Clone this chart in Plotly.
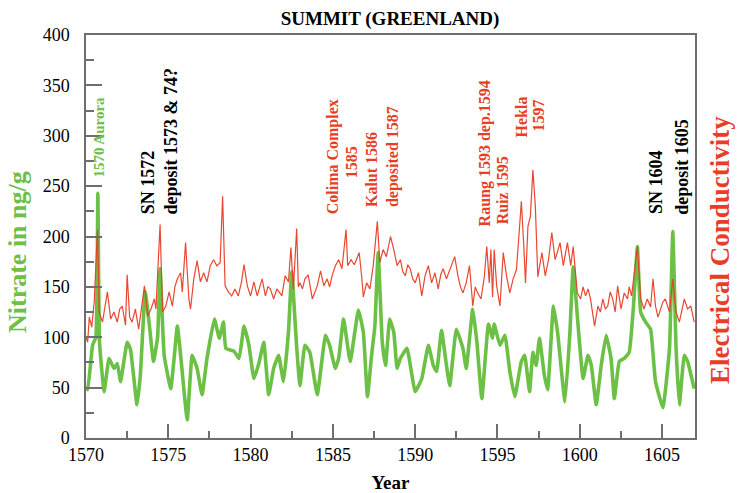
import plotly.graph_objects as go

# ---------------- data ----------------
nitrate_year = [1570.0, 1570.1, 1570.4, 1570.6, 1570.72, 1570.82, 1571.1, 1571.4, 1571.7, 1571.9,
                1572.1, 1572.5, 1572.7, 1573.1, 1573.3, 1573.6, 1573.85, 1574.1, 1574.35, 1574.5,
                1574.75, 1575.15, 1575.55, 1575.75, 1576.15, 1576.45, 1576.75, 1577.05, 1577.35, 1577.8,
                1578.1, 1578.35, 1578.5, 1579.0, 1579.3, 1579.6, 1579.9, 1580.2, 1580.5, 1580.8,
                1581.1, 1581.4, 1581.7, 1582.0, 1582.3, 1582.5, 1582.8, 1583.0, 1583.3, 1583.6,
                1584.05, 1584.55, 1584.8, 1585.15, 1585.35, 1585.65, 1586.05, 1586.55, 1586.85, 1587.1,
                1587.35, 1587.55, 1587.75, 1588.0, 1588.2, 1588.45, 1588.7, 1588.9, 1589.1, 1589.5,
                1590.0, 1590.4, 1590.8, 1591.1, 1591.3, 1591.6, 1591.9, 1592.1, 1592.5, 1592.9,
                1593.1, 1593.5, 1593.75, 1594.05, 1594.45, 1594.7, 1594.8, 1595.15, 1595.45, 1595.75,
                1596.05, 1596.45, 1596.65, 1596.95, 1597.15, 1597.35, 1597.55, 1597.85, 1598.05, 1598.4,
                1598.65, 1599.1, 1599.4, 1599.6, 1599.9, 1600.2, 1600.5, 1600.7, 1601.0, 1601.3,
                1601.6, 1601.9, 1602.1, 1602.4, 1602.7, 1603.0, 1603.25, 1603.5, 1603.7, 1604.0,
                1604.3, 1604.6, 1605.05, 1605.45, 1605.65, 1605.85, 1606.05, 1606.35, 1606.55, 1606.95]
nitrate = [50, 48, 92, 100, 243, 95, 46, 79, 69, 74,
           56, 95, 88, 33, 62, 145, 112, 76, 100, 168,
           82, 49, 111, 82, 18, 82, 69, 43, 79, 118,
           99, 115, 89, 86, 79, 111, 92, 59, 74, 95,
           43, 69, 82, 56, 105, 165, 90, 52, 92, 85,
           43, 102, 92, 69, 79, 118, 76, 127, 105, 41,
           82, 111, 184, 95, 72, 118, 105, 69, 79, 89,
           46, 59, 92, 72, 66, 107, 72, 52, 108, 89,
           69, 128, 95, 39, 113, 99, 113, 92, 102, 66,
           41, 76, 82, 46, 85, 72, 99, 62, 48, 131,
           105, 36, 105, 170, 111, 59, 82, 72, 33, 72,
           102, 79, 39, 76, 79, 85, 128, 190, 125, 115,
           108, 56, 30, 89, 205, 89, 33, 82, 76, 49]

conductivity_year = [1570.0, 1570.1, 1570.2, 1570.35, 1570.5, 1570.7, 1570.8, 1571.0, 1571.15, 1571.3,
                     1571.5, 1571.7, 1571.9, 1572.05, 1572.2, 1572.4, 1572.5, 1572.65, 1572.8, 1573.0,
                     1573.2, 1573.4, 1573.55, 1573.75, 1573.95, 1574.15, 1574.25, 1574.5, 1574.65, 1574.85,
                     1575.05, 1575.25, 1575.4, 1575.55, 1575.75, 1575.85, 1576.05, 1576.25, 1576.35, 1576.55,
                     1576.75, 1576.95, 1577.15, 1577.35, 1577.55, 1577.75, 1577.95, 1578.15, 1578.3, 1578.45,
                     1578.65, 1578.85, 1579.05, 1579.25, 1579.45, 1579.6, 1579.8, 1580.0, 1580.2, 1580.4,
                     1580.55, 1580.7, 1580.9, 1581.05, 1581.2, 1581.4, 1581.6, 1581.9, 1582.1, 1582.3,
                     1582.45, 1582.6, 1582.8, 1582.9, 1583.0, 1583.15, 1583.3, 1583.5, 1583.75, 1584.05,
                     1584.25, 1584.45, 1584.65, 1584.8, 1584.95, 1585.15, 1585.35, 1585.55, 1585.8, 1585.9,
                     1586.1, 1586.3, 1586.45, 1586.6, 1586.75, 1586.85, 1587.05, 1587.25, 1587.45, 1587.7,
                     1587.85, 1588.05, 1588.25, 1588.5, 1588.7, 1588.9, 1589.1, 1589.25, 1589.4, 1589.55,
                     1589.7, 1589.85, 1590.0, 1590.2, 1590.4, 1590.6, 1590.8, 1591.0, 1591.2, 1591.4,
                     1591.55, 1591.7, 1591.9, 1592.05, 1592.2, 1592.4, 1592.6, 1592.75, 1592.9, 1593.1,
                     1593.3, 1593.5, 1593.65, 1593.8, 1594.0, 1594.2, 1594.35, 1594.5, 1594.6, 1594.7,
                     1594.8, 1594.95, 1595.15, 1595.35, 1595.55, 1595.75, 1595.95, 1596.15, 1596.3, 1596.45,
                     1596.6, 1596.7, 1596.85, 1597.0, 1597.15, 1597.3, 1597.45, 1597.6, 1597.7, 1597.9,
                     1598.1, 1598.3, 1598.5, 1598.65, 1598.8, 1599.0, 1599.25, 1599.45, 1599.6, 1599.85,
                     1600.05, 1600.2, 1600.35, 1600.5, 1600.65, 1600.9, 1601.1, 1601.25, 1601.4, 1601.55,
                     1601.7, 1601.85, 1602.0, 1602.15, 1602.3, 1602.5, 1602.7, 1602.9, 1603.0, 1603.15,
                     1603.3, 1603.5, 1603.7, 1603.9, 1604.1, 1604.3, 1604.45, 1604.6, 1604.75, 1604.9,
                     1605.05, 1605.2, 1605.45, 1605.65, 1605.85, 1606.05, 1606.2, 1606.35, 1606.55, 1606.75,
                     1606.95]
conductivity = [100, 95, 120, 110, 135, 207, 125, 115, 130, 145,
                118, 125, 115, 128, 131, 112, 162, 120, 115, 128,
                108, 131, 151, 121, 128, 138, 128, 212, 125, 131,
                145, 131, 150, 158, 164, 145, 194, 138, 128, 158,
                176, 155, 164, 155, 171, 177, 171, 174, 240, 151,
                145, 141, 148, 141, 155, 172, 151, 141, 155, 141,
                150, 158, 141, 150, 148, 138, 148, 141, 161, 155,
                189, 148, 208, 150, 154, 148, 158, 162, 138, 151,
                166, 151, 158, 150, 161, 171, 177, 168, 207, 171,
                177, 172, 178, 184, 160, 140, 154, 148, 171, 215,
                174, 187, 180, 200, 187, 171, 177, 165, 161, 172,
                168, 158, 154, 164, 141, 161, 171, 154, 164, 148,
                162, 168, 158, 165, 171, 180, 161, 150, 144, 154,
                171, 131, 150, 144, 138, 160, 190, 154, 187, 140,
                187, 151, 131, 184, 161, 144, 158, 167, 200, 235,
                190, 154, 210, 220, 266, 230, 160, 175, 184, 161,
                177, 204, 177, 185, 194, 171, 194, 171, 190, 144,
                138, 150, 141, 148, 138, 111, 131, 125, 138, 128,
                131, 145, 138, 125, 151, 128, 144, 138, 150, 141,
                160, 190, 138, 128, 138, 130, 158, 131, 120, 128,
                135, 138, 125, 158, 125, 115, 125, 138, 128, 131,
                115]

x_range = [1570, 1607]
y_range = [0, 400]

# ---------------- figure ----------------
GREEN = "rgb(108,192,70)"
RED = "rgb(232,62,38)"
FONT = "Liberation Serif"

fig = go.Figure()
fig.add_trace(go.Scatter(x=nitrate_year, y=nitrate, mode="lines",
                         line=dict(color=GREEN, width=3.6, shape="spline", smoothing=0.35),
                         showlegend=False))
fig.add_trace(go.Scatter(x=conductivity_year, y=conductivity, mode="lines",
                         line=dict(color=RED, width=1.2), opacity=0.95,
                         yaxis="y2", showlegend=False))

annots = [
    ("1570 Aurora", 1570.79, 256, "bottom", GREEN, 15),
    ("SN 1572", 1573.76, 220, "bottom", "black", 18),
    ("deposit 1573 & 74?", 1575.15, 220, "bottom", "black", 18),
    ("Colima Complex", 1585.03, 279, "middle", RED, 16),
    ("1585", 1586.18, 274, "middle", RED, 16),
    ("Kalut 1586", 1587.39, 227, "bottom", RED, 16),
    ("deposited 1587", 1588.61, 227, "bottom", RED, 16),
    ("Raung 1593 dep.1594", 1594.24, 208, "bottom", RED, 16),
    ("Ruiz 1595", 1595.27, 210, "bottom", RED, 16),
    ("Hekla", 1596.48, 319, "middle", RED, 16),
    ("1597", 1597.52, 320, "middle", RED, 16),
    ("SN 1604", 1604.67, 220, "bottom", "black", 18),
    ("deposit 1605", 1606.24, 220, "bottom", "black", 18),
]
for txt, xv, yv, ya, col, sz in annots:
    fig.add_annotation(x=xv, y=yv, xref="x", yref="y", text="<b>" + txt + "</b>",
                       textangle=-90, showarrow=False, xanchor="center", yanchor=ya,
                       font=dict(family=FONT, size=sz, color=col))

# axis titles (placed as rotated texts)
fig.add_annotation(x=-69 / 609, y=(438 - 252) / 403, xref="paper", yref="paper",
                   text="<b>Nitrate in ng/g</b>", textangle=-90, showarrow=False,
                   xanchor="center", yanchor="middle",
                   font=dict(family=FONT, size=26, color=GREEN))
fig.add_annotation(x=(720 - 86) / 609, y=(438 - 250) / 403, xref="paper", yref="paper",
                   text="<b>Electrical Conductivity</b>", textangle=-90, showarrow=False,
                   xanchor="center", yanchor="middle",
                   font=dict(family=FONT, size=27, color=RED))

axis_line = "rgb(110,110,110)"
fig.update_layout(
    width=739, height=493,
    margin=dict(l=86, r=44, t=35, b=55, autoexpand=False),
    paper_bgcolor="white", plot_bgcolor="white",
    font=dict(family=FONT, size=18, color="black"),
    title=dict(text="<b>SUMMIT (GREENLAND)</b>", x=390 / 739, xanchor="center",
               y=1 - 18 / 493, yanchor="middle", font=dict(family=FONT, size=19, color="black")),
    xaxis=dict(range=x_range, tickmode="linear", tick0=1570, dtick=5,
               ticks="inside", ticklen=14, tickwidth=1.6, tickcolor=axis_line,
               minor=dict(tickmode="linear", tick0=1570, dtick=2.5, ticks="inside", ticklen=7,
                          tickwidth=1.6, tickcolor=axis_line, showgrid=False),
               showline=True, linecolor=axis_line, linewidth=1.5, mirror=True,
               showgrid=False, zeroline=False, automargin=False,
               tickfont=dict(family=FONT, size=18, color="black"),
               title=dict(text="<b>Year</b>", font=dict(family=FONT, size=19, color="black"), standoff=14)),
    yaxis=dict(range=y_range, tickmode="linear", tick0=0, dtick=50,
               ticks="inside", ticklen=16, tickwidth=1.6, tickcolor=axis_line,
               minor=dict(tickmode="linear", tick0=0, dtick=25, ticks="inside", ticklen=8,
                          tickwidth=1.6, tickcolor=axis_line, showgrid=False),
               showline=True, linecolor=axis_line, linewidth=1.5, mirror=True,
               showgrid=False, zeroline=False, ticklabelstandoff=11, automargin=False,
               tickfont=dict(family=FONT, size=18, color="black")),
    yaxis2=dict(range=y_range, overlaying="y", side="right", showticklabels=False,
                ticks="", showline=False, showgrid=False, zeroline=False, automargin=False),
)

fig.write_html("out.html", config={"displayModeBar": False},
               post_script="document.body.style.margin='0px';")
